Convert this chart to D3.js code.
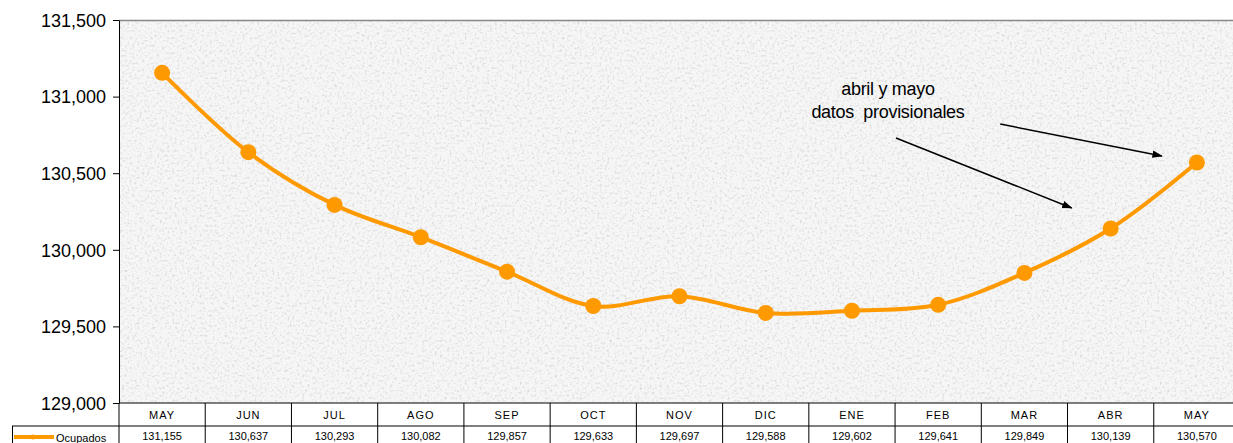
<!DOCTYPE html>
<html><head><meta charset="utf-8">
<script src="https://cdn.jsdelivr.net/npm/d3@7/dist/d3.min.js"></script>
<style>body{margin:0;background:#fff;font-family:"Liberation Sans",Arial,sans-serif}</style>
</head><body><svg id="c" width="1233" height="443"></svg>
<script>
const months = ["MAY","JUN","JUL","AGO","SEP","OCT","NOV","DIC","ENE","FEB","MAR","ABR","MAY"];
const ocupados = [131155,130637,130293,130082,129857,129633,129697,129588,129602,129641,129849,130139,130570];
const valueLabels = ["131,155","130,637","130,293","130,082","129,857","129,633","129,697","129,588","129,602","129,641","129,849","130,139","130,570"];
const yTicks = [129000,129500,130000,130500,131000,131500];
const seriesName = "Ocupados";
const noteLines = ["abril y mayo","datos  provisionales"];

const svg = d3.select("#c");
const L=119, T=20, R=1233, B=403;
const idx = months.map((m,i)=>i);
const x = d3.scaleBand().domain(idx).range([L,L+13*86.23]);
const y = d3.scaleLinear().domain([129000,131500]).range([B,T]);
const cx = i => x(i)+x.bandwidth()/2;

const defs = svg.append("defs");
const f = defs.append("filter").attr("id","granite").attr("x",0).attr("y",0).attr("width","100%").attr("height","100%");
f.append("feTurbulence").attr("type","fractalNoise").attr("baseFrequency",0.4).attr("numOctaves",3).attr("seed",5).attr("result","n");
f.append("feColorMatrix").attr("in","n").attr("type","matrix")
 .attr("values","0 0 0 0 0.68  0 0 0 0 0.68  0 0 0 0 0.68  2.6 0 0 0 -1.3").attr("result","g");
f.append("feComposite").attr("in","g").attr("in2","SourceGraphic").attr("operator","over");
svg.append("rect").attr("x",L).attr("y",T).attr("width",R-L).attr("height",B-T).attr("fill","#f6f6f6").attr("filter","url(#granite)");

defs.append("marker").attr("id","ah").attr("viewBox","0 0 10 10").attr("refX",9).attr("refY",5)
 .attr("markerWidth",7).attr("markerHeight",7).attr("orient","auto")
 .append("path").attr("d","M0,1.5 L10,5 L0,8.5 z").attr("fill","#000");

// axes
svg.append("line").attr("x1",L).attr("x2",R).attr("y1",T+0.5).attr("y2",T+0.5).attr("stroke","#888").attr("stroke-width",1.5);
const ya = d3.axisLeft(y).tickValues(yTicks).tickSize(6).tickSizeOuter(0).tickFormat(d3.format(","));
const g = svg.append("g").attr("transform",`translate(${L},0)`).call(ya);
g.select(".domain").attr("stroke","#000");
g.selectAll("text").attr("font-size",18).attr("font-family","Liberation Sans, Arial").attr("fill","#000").attr("dx",-4).attr("dy","0.35em");
g.selectAll("line").attr("stroke","#000");

// line
const line = d3.line().x((d,i)=>cx(i)).y(d=>y(d)).curve(d3.curveCatmullRom.alpha(0.5));
svg.append("path").datum(ocupados).attr("d",line).attr("fill","none").attr("stroke","#ff9900").attr("stroke-width",4);
svg.selectAll("circle.pt").data(ocupados).join("circle").attr("class","pt")
 .attr("cx",(d,i)=>cx(i)).attr("cy",d=>y(d)).attr("r",8).attr("fill","#ff9900");

// annotation
const nx = cx(8)+36;
svg.append("text").attr("x",nx).attr("y",y(131010)).attr("text-anchor","middle").attr("font-size",18).attr("letter-spacing",-0.3).style("white-space","pre").text(noteLines[0]);
svg.append("text").attr("x",nx).attr("y",y(130860)).attr("text-anchor","middle").attr("font-size",18).attr("letter-spacing",-0.3).style("white-space","pre").text(noteLines[1]);
svg.append("line").attr("x1",cx(9)+62).attr("y1",y(130821)).attr("x2",cx(12)-35).attr("y2",y(130612))
 .attr("stroke","#000").attr("stroke-width",1.5).attr("marker-end","url(#ah)");
svg.append("line").attr("x1",cx(8)+44).attr("y1",y(130730)).attr("x2",cx(11)-39).attr("y2",y(130273))
 .attr("stroke","#000").attr("stroke-width",1.5).attr("marker-end","url(#ah)");

// table
const tb = svg.append("g");
const r2 = 426;
tb.append("line").attr("x1",L).attr("x2",R).attr("y1",B).attr("y2",B).attr("stroke","#000");
tb.append("line").attr("x1",12).attr("x2",R).attr("y1",r2).attr("y2",r2).attr("stroke","#000");
tb.append("line").attr("x1",12.5).attr("x2",12.5).attr("y1",r2).attr("y2",443).attr("stroke","#000");
tb.append("line").attr("x1",L).attr("x2",L).attr("y1",B).attr("y2",443).attr("stroke","#000");
idx.forEach(i=>{
  const xr = x(i)+x.bandwidth();
  tb.append("line").attr("x1",xr).attr("x2",xr).attr("y1",B).attr("y2",443).attr("stroke","#000");
});
tb.selectAll("text.m").data(months).join("text").attr("class","m")
 .attr("x",(d,i)=>cx(i)).attr("y",419).attr("text-anchor","middle").attr("font-size",11).attr("letter-spacing",1).text(d=>d);
tb.selectAll("text.v").data(valueLabels).join("text").attr("class","v")
 .attr("x",(d,i)=>cx(i)).attr("y",440).attr("text-anchor","middle").attr("font-size",11).text(d=>d);
tb.append("line").attr("x1",14).attr("x2",54).attr("y1",437).attr("y2",437).attr("stroke","#ff9900").attr("stroke-width",4);
tb.append("circle").attr("cx",33).attr("cy",437).attr("r",2.5).attr("fill","#ff9900");
tb.append("text").attr("x",56).attr("y",442).attr("font-size",11).text(seriesName);
</script></body></html>
